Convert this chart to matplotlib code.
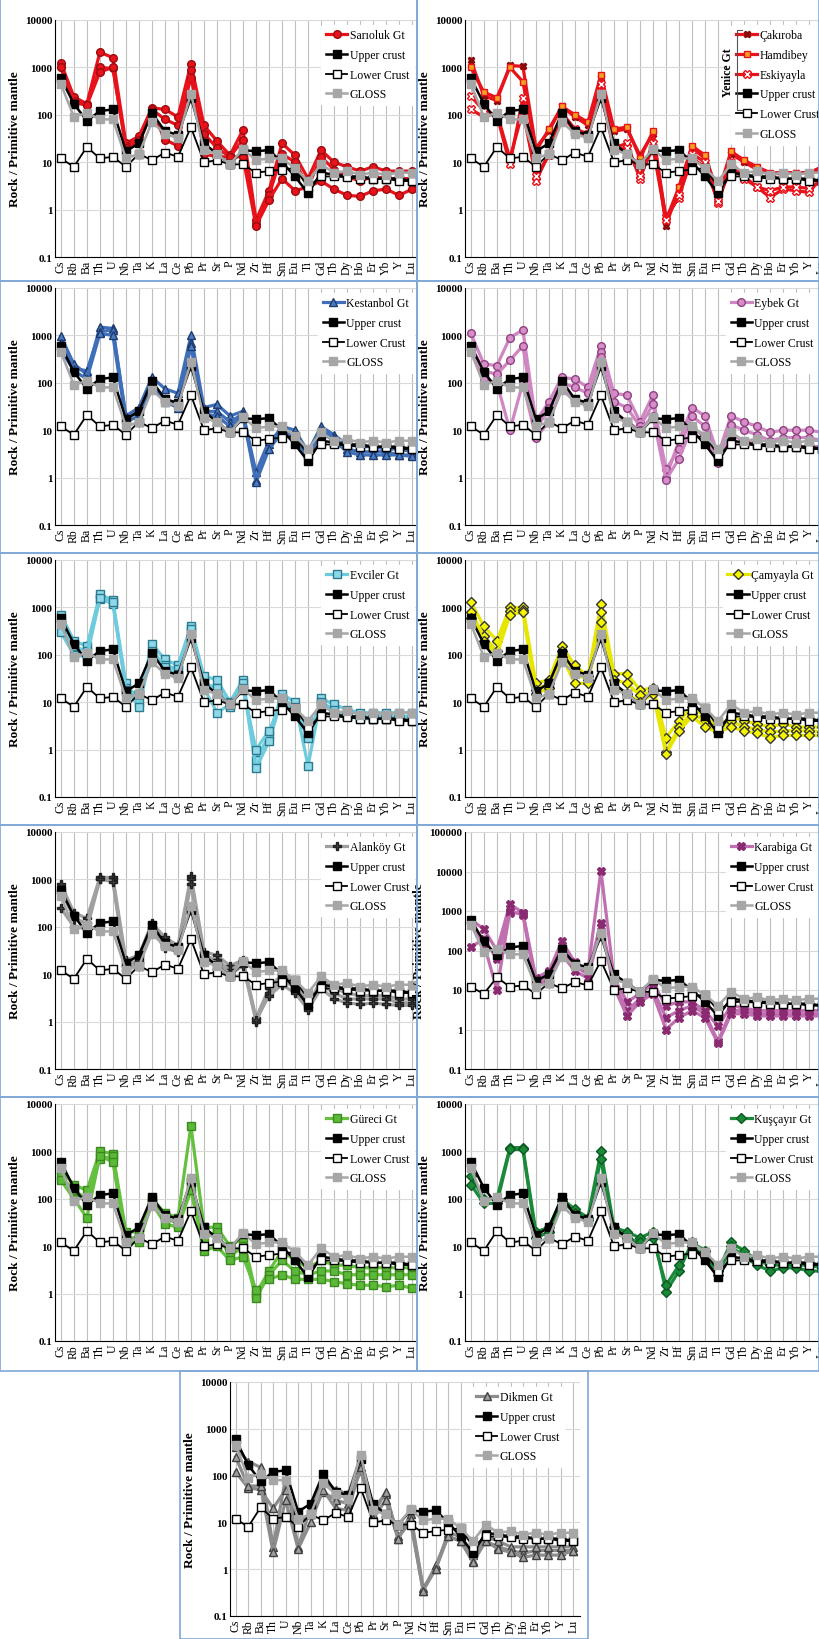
import matplotlib
matplotlib.use("Agg")
import matplotlib.pyplot as plt
from matplotlib.patches import Rectangle
import numpy as np

plt.rcParams['font.family'] = ['Liberation Serif', 'DejaVu Serif']

elements = ["Cs","Rb","Ba","Th","U","Nb","Ta","K","La","Ce","Pb","Pr","Sr","P","Nd",
            "Zr","Hf","Sm","Eu","Ti","Gd","Tb","Dy","Ho","Er","Yb","Y","Lu"]

upper_crust = [600,170,75,120,130,17,25,110,45,38,230,25,15,9,18,17,18,10,5,2.2,6,5.5,5,5,4.5,4.5,4.5,4]
lower_crust = [12,8,21,12,13,8,15,11,16,13,55,10,11,9,9,6,6.5,7,7.5,3,5,5,4.8,4.5,4.5,4.5,4,4]
gloss = [450,90,110,80,80,12,15,70,40,32,280,18,15,9,19,11,12,12,7.5,4,9,6,6.5,5.5,6,5.5,6,6]

sarioluk = [
 [1250,240,170,2100,1600,25,35,140,130,90,1200,60,28,14,48,0.6,2.5,25,14,4.5,18,10,8,6.5,8,6.5,6.5,6.5],
 [1000,200,160,1000,950,22,30,130,80,60,600,40,20,13,30,0.5,2,15,10,3,13,7,5,4,5,4.5,4.5,4.5],
 [1000,180,160,800,1000,20,25,120,30,22,900,15,13,13,13,0.45,1.6,4.5,2.5,3,4,2.7,2,1.9,2.5,2.7,2,2.7]]
cakiroba = [1400,250,200,1100,1050,20,45,150,90,60,600,45,50,14,40,0.45,3,20,12,2,15,10,7,5.5,6,6,6,7]
hamdibey = [1000,300,230,1000,500,17,50,150,100,70,700,50,55,12,45,0.6,3,22,14,2.2,17,11,8,6,6,6,6,8]
eskiyayla = [250,120,100,9,230,4,15,110,50,40,450,20,25,4.5,25,0.7,1.8,15,10,1.4,10,5,3,1.8,2.7,2.5,2.3,5]
eskiyayla2 = [130,90,110,12,120,5,14,100,45,35,300,18,20,5,20,0.6,2,12,8,1.5,8,4.5,3,2.5,3,3,2.8,4]
kestanbol = [
 [950,250,150,1500,1400,20,30,130,75,60,1000,30,35,20,25,0.9,5,12,10,3.5,12,8,5,4.5,4.5,4,4,3.5],
 [700,200,180,1200,1300,18,25,100,45,35,700,25,25,15,22,1.3,6,10,8,3,10,7,4,3.5,3.5,3.5,3,3],
 [500,180,120,1100,1000,15,20,90,40,30,600,22,20,12,20,0.8,4,9,7,2.5,9,6,3.5,3,3,3,3,2.8]]
eybek = [
 [1100,250,230,900,1300,15,40,130,120,80,600,60,55,15,55,1,6,30,20,3,20,15,12,9,10,10,10,9],
 [600,180,150,300,600,10,30,100,80,60,450,40,30,12,35,1.5,4,20,12,2.5,13,10,8,6,7,7,7,6],
 [450,120,100,10,100,7,15,80,40,40,350,25,15,10,20,0.9,2.5,12,7,2,8,6,5,4.5,4.5,4.5,4.5,4.5]]
evciler = [
 [700,200,150,1900,1400,25,10,170,80,60,400,35,30,10,30,0.6,2,15,10,0.45,12,9,7,6,6,6,6,6],
 [450,150,120,1500,1200,20,8,120,60,50,300,25,20,8,25,0.4,1.5,12,8,2,10,7,5,5,5,5,5,5],
 [300,100,90,1600,1300,18,15,100,55,40,350,20,6,9,20,1,2.5,10,7,1.8,9,6,5,4.5,4.5,4.5,4.5,4.5]]
camyayla = [
 [1300,400,200,1000,1000,25,30,150,60,35,1200,40,40,18,20,1.8,4,8,5,3,5,4,3.5,3,3.5,3,3,3],
 [800,250,120,850,900,18,25,120,40,30,800,30,25,14,17,0.9,3,6,4,2.5,4,3,2.7,2.3,2.5,2.5,2.5,2.4],
 [600,200,100,700,800,15,20,90,25,25,500,20,15,10,15,0.8,2.5,5,3,2.3,3,2.5,2.2,1.8,2,2,2,2]]
alankoy = [
 [800,200,150,1100,1100,20,25,120,60,40,1200,30,25,15,20,1.2,5,10,7,2,8,5,4,3.5,3.5,3.5,3,3],
 [600,150,120,1000,1000,15,20,100,40,35,1000,25,20,12,18,1,4,8,5,2.5,6,4,3,3,3,3,2.5,2.5],
 [250,100,90,1000,900,12,18,90,35,30,800,20,18,10,15,1.1,3.5,6,4,1.8,5,3,2.5,2.3,2.5,2.3,2.2,2.2]]
karabiga = [
 [600,350,100,1500,900,20,30,170,50,30,10500,20,5,8,15,4,5,5,3,1.2,4,3.5,3,3,3,3,3,3],
 [120,200,60,900,900,15,25,100,40,25,500,15,3,6,10,2,3,4,2.5,0.5,3,3,2.5,2.5,2.5,2.5,2.5,2.5],
 [500,150,10,1000,800,12,20,80,30,20,400,12,2.2,5,8,1,2,3,2,0.45,2.5,2.5,2.2,2.2,2.2,2.2,2.2,2.2]]
gureci = [
 [400,200,150,1000,900,20,20,100,50,40,3500,25,25,10,15,1,3,8,5,3.5,5,4,4,3.5,3.5,3.5,3.5,3.5],
 [300,150,100,700,800,15,15,90,40,30,250,15,20,6,10,0.8,2.5,5,3,2.5,3,3,2.5,2.5,2.5,2.5,2.5,2.5],
 [250,100,40,800,600,12,12,80,30,25,150,8,10,5,6,1.2,2,2.5,2,2,2,1.8,1.6,1.5,1.5,1.4,1.5,1.3]]
kuscayir = [
 [300,100,100,1200,1200,20,25,100,60,40,1000,25,20,15,20,1.1,3,12,8,3,12,8,5,4,4,4,4,3.5],
 [200,80,80,1100,1100,15,20,90,50,35,700,20,15,12,15,1.5,4,10,6,2.5,10,6,4,3,3.5,3.5,3,3]]
dikmen = [
 [400,200,150,3,90,3,20,80,50,40,250,20,40,5,10,0.35,1.2,5,4,1.5,4,3,2.5,2.2,2.5,2.5,2.5,2.5],
 [120,55,50,20,50,10,15,45,30,25,130,15,45,4.5,15,0.4,1.0,6,5,2,5,4,3,3,3,3,3,3],
 [250,60,60,2.3,30,2.7,10,50,20,18,150,12,30,4.5,12,0.35,1,5,4,1.4,4,2.7,2.3,1.8,2,2,2,2.5]]

W, H = 819, 1640
fig = plt.figure(figsize=(W/100, H/100), dpi=100)
x = np.arange(len(elements))

def add_ax(left, top, width=361, height=237):
    return fig.add_axes([left/W, 1-(top+height)/H, width/W, height/H])

def setup(ax, ymax=10000):
    ax.set_yscale('log')
    ax.set_ylim(0.1, ymax)
    ax.set_xlim(-0.45, 27.3)
    ax.set_xticks(x)
    ax.set_xticklabels(elements, rotation=90, fontsize=8.5)
    yt = [10**k for k in range(-1, int(np.log10(ymax))+1)]
    ax.set_yticks(yt)
    ax.set_yticklabels([("%g" % v) for v in yt], fontsize=8, fontweight='bold')
    ax.yaxis.set_minor_locator(matplotlib.ticker.NullLocator())
    ax.grid(axis='y', color='#d9d9d9', lw=0.8)
    ax.grid(axis='x', color='#bfbfbf', lw=0.8)
    for s in ['top', 'right']:
        ax.spines[s].set_visible(False)
    ax.tick_params(length=0, pad=2)
    ax.set_ylabel('Rock / Primitive mantle', fontsize=9.5, fontweight='bold', labelpad=3)
    ax.set_axisbelow(True)

def refs(ax):
    ax.plot(x, upper_crust, '-s', color='black', ms=5.5, lw=1.8, label='Upper crust', zorder=5)
    ax.plot(x, lower_crust, '-s', color='black', mfc='white', ms=6, lw=1.3, label='Lower Crust', zorder=5)
    ax.plot(x, gloss, '-s', color='#a6a6a6', ms=5.5, lw=1.8, label='GLOSS', zorder=5)

def samples(ax, data, label, color, marker, mfc, mec, ms=5.5, lw=2.3):
    for i, d in enumerate(data):
        ax.plot(x, d, '-', marker=marker, color=color, mfc=mfc, mec=mec, ms=ms, lw=lw,
                label=label if i == 0 else None, zorder=3)

def legend(ax, anchor):
    ax.legend(loc='upper right', bbox_to_anchor=anchor, frameon=True, framealpha=1,
              edgecolor='white', fontsize=8.5, handlelength=1.8, handletextpad=0.2,
              labelspacing=0.65, borderaxespad=0.2)

rows = [0, 282, 554, 826, 1098]
LX, RX = 55, 465

panels = [
 (0, 'L', sarioluk, 'Sarıoluk Gt', '#e8121b', 'o', '#e8121b', '#9a0c10'),
 (0, 'R', None, None, None, None, None, None),
 (1, 'L', kestanbol, 'Kestanbol Gt', '#3f6fb8', '^', '#4a7cc0', '#1e3a70'),
 (1, 'R', eybek, 'Eybek Gt', '#cf86c3', 'o', '#d58ec8', '#904080'),
 (2, 'L', evciler, 'Evciler Gt', '#6ccbdc', 's', '#8fd8e8', '#2a7a90'),
 (2, 'R', camyayla, 'Çamyayla Gt', '#e6e600', 'D', '#f5f500', '#333333'),
 (3, 'L', alankoy, 'Alanköy Gt', '#a0a0a0', 'P', '#404040', '#202020'),
 (3, 'R', karabiga, 'Karabiga Gt', '#c070b0', 'X', '#8a2a70', '#8a2a70'),
 (4, 'L', gureci, 'Güreci Gt', '#66c040', 's', '#5cb838', '#3a8a20'),
 (4, 'R', kuscayir, 'Kuşçayır Gt', '#1a8a3a', 'D', '#1a8a3a', '#0a5a20'),
]

for r, side, data, label, color, mk, mfc, mec in panels:
    top = rows[r] + (21 if r == 0 else 7)
    left = LX if side == 'L' else RX
    ax = add_ax(left, top)
    ymax = 100000 if label == 'Karabiga Gt' else 10000
    setup(ax, ymax)
    if data is None:
        ax.plot(x, cakiroba, '-', marker='X', color='#e8121b', mfc='#8a0a0a', mec='#8a0a0a', ms=5, lw=2.3, label='Çakıroba', zorder=3)
        ax.plot(x, hamdibey, '-', marker='s', color='#e8121b', mfc='#f5a020', mec='#e8121b', ms=5, lw=2.3, label='Hamdibey', zorder=3)
        ax.plot(x, eskiyayla, '-', marker='X', color='#e8121b', mfc='white', mec='#e8121b', ms=6, lw=2.3, label='Eskiyayla', zorder=3)
        ax.plot(x, eskiyayla2, '-', marker='X', color='#e8121b', mfc='white', mec='#e8121b', ms=6, lw=2.3, zorder=3)
        refs(ax)
        legend(ax, (1.0, 0.99))
        fig.text(728/W, 1-(top+52)/H, 'Yenice Gt', rotation=90, fontsize=8.5,
                 fontweight='bold', ha='center', va='center')
        fig.add_artist(plt.Line2D([742/W, 737/W, 737/W, 742/W],
                                  [1-(top+10)/H, 1-(top+10)/H, 1-(top+90)/H, 1-(top+90)/H],
                                  color='#555555', lw=0.8))
    else:
        samples(ax, data, label, color, mk, mfc, mec)
        refs(ax)
        legend(ax, (1.0, 0.99) if side == 'L' else (0.985, 0.99))

# Dikmen bottom panel
ax = add_ax(230, 1383, width=350, height=234)
setup(ax)
ax.set_xlim(-0.45, 27.55)
samples(ax, dikmen, 'Dikmen Gt', '#8c8c8c', '^', '#a0a0a0', '#404040')
refs(ax)
legend(ax, (0.96, 0.99))

# panel borders
bc = '#7fa7d6'
for r in range(5):
    y0 = rows[r]
    y1 = rows[r+1] if r < 4 else 1372
    for xl, xr in [(0, 417), (417, 819)]:
        fig.add_artist(Rectangle((xl/W, 1-y1/H), (xr-xl)/W, (y1-y0)/H, transform=fig.transFigure,
                                 fill=False, ec=bc, lw=1.2))
fig.add_artist(Rectangle((180/W, 0), (588-180)/W, (1640-1372)/H, transform=fig.transFigure,
                         fill=False, ec=bc, lw=1.2))

fig.savefig('out.png', dpi=100)
